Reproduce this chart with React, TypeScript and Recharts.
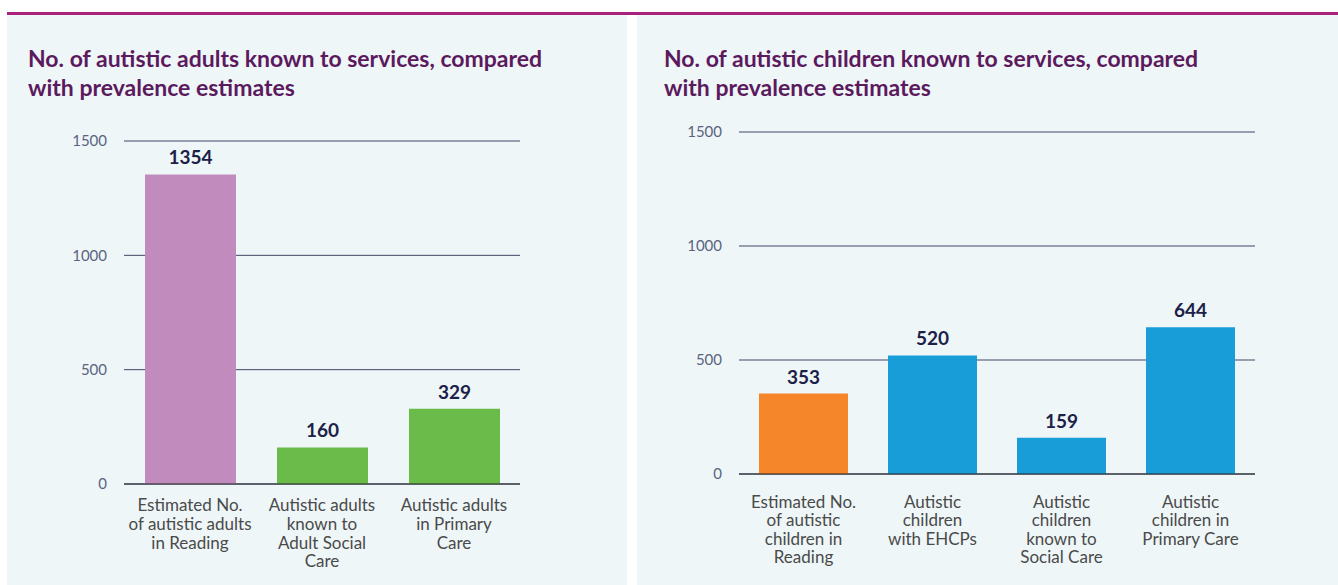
import { BarChart, Bar, XAxis, YAxis, CartesianGrid, Cell, LabelList } from "recharts";

// adults panel
const adultCategories = [
  "Estimated No.\nof autistic adults\nin Reading",
  "Autistic adults\nknown to\nAdult Social\nCare",
  "Autistic adults\nin Primary\nCare",
];
const adultValues = [1354, 160, 329];
const adultColors = ["#c28bbd", "#6bbb4b", "#6bbb4b"];

// children panel
const childCategories = [
  "Estimated No.\nof autistic\nchildren in\nReading",
  "Autistic\nchildren\nwith EHCPs",
  "Autistic\nchildren\nknown to\nSocial Care",
  "Autistic\nchildren in\nPrimary Care",
];
const childValues = [353, 520, 159, 644];
const childColors = ["#f5862a", "#189dd9", "#189dd9", "#189dd9"];

const yTicks = [0, 500, 1000, 1500];

const FONT = "Lato, 'Open Sans', sans-serif";
const PANEL_BG = "#eef6f8";

const makeTick = (firstDy: number, lineGap: number) => (props: any) => {
  const { x, y, payload } = props;
  const lines = String(payload.value).split("\n");
  return (
    <text x={x} y={y} textAnchor="middle" fill="#4a4a4a" fontSize={17} fontFamily={FONT}>
      {lines.map((line, i) => (
        <tspan key={i} x={x} dy={i === 0 ? firstDy : lineGap}>
          {line}
        </tspan>
      ))}
    </text>
  );
};

const Title: React.FC<{ left: number; lines: string[] }> = ({ left, lines }) => (
  <div
    style={{
      position: "absolute",
      left,
      top: 44,
      fontFamily: FONT,
      fontWeight: 700,
      fontSize: 23,
      lineHeight: "29px",
      color: "#5c1a5e",
      whiteSpace: "nowrap",
    }}
  >
    {lines.map((l, i) => (
      <div key={i}>{l}</div>
    ))}
  </div>
);

const App = () => {
  const adultData = adultCategories.map((name, i) => ({ name, value: adultValues[i] }));
  const childData = childCategories.map((name, i) => ({ name, value: childValues[i] }));

  return (
    <div style={{ position: "absolute", left: 0, top: 0, width: 1338, height: 585, background: "#fff", overflow: "hidden" }}>
      <div style={{ position: "absolute", left: 7, top: 12, width: 1331, height: 3, background: "#a8217f" }} />
      <div style={{ position: "absolute", left: 7, top: 15, width: 620, height: 570, background: PANEL_BG }} />
      <div style={{ position: "absolute", left: 637, top: 15, width: 701, height: 570, background: PANEL_BG }} />

      <Title left={28} lines={["No. of autistic adults known to services, compared", "with prevalence estimates"]} />
      <Title left={664} lines={["No. of autistic children known to services, compared", "with prevalence estimates"]} />

      <div style={{ position: "absolute", left: 7, top: 15 }}>
        <BarChart width={620} height={570} data={adultData} margin={{ top: 126, right: 107, bottom: 11, left: 0 }}>
          <CartesianGrid vertical={false} stroke="#3f4666" />
          <XAxis
            dataKey="name"
            height={90}
            interval={0}
            tickLine={false}
            tickSize={0}
            tickMargin={0}
            axisLine={{ stroke: "#222" }}
            tick={makeTick(27, 18.8)}
          />
          <YAxis
            width={117}
            domain={[0, 1500]}
            ticks={yTicks}
            axisLine={false}
            tickLine={false}
            tickSize={0}
            tickMargin={17}
            tick={{ fill: "#5a6480", fontSize: 15, fontFamily: FONT }}
          />
          <Bar dataKey="value" barSize={91} isAnimationActive={false}>
            {adultData.map((d, i) => (
              <Cell key={d.name} fill={adultColors[i]} />
            ))}
            <LabelList dataKey="value" position="top" offset={10} fill="#1c2148" fontSize={19} fontWeight={700} fontFamily={FONT} />
          </Bar>
        </BarChart>
      </div>

      <div style={{ position: "absolute", left: 637, top: 15 }}>
        <BarChart width={701} height={570} data={childData} margin={{ top: 117, right: 83, bottom: 11, left: 0 }}>
          <CartesianGrid vertical={false} stroke="#3f4666" />
          <XAxis
            dataKey="name"
            height={100}
            interval={0}
            tickLine={false}
            tickSize={0}
            tickMargin={0}
            axisLine={{ stroke: "#222" }}
            tick={makeTick(33.5, 18.6)}
          />
          <YAxis
            width={102}
            domain={[0, 1500]}
            ticks={yTicks}
            axisLine={false}
            tickLine={false}
            tickSize={0}
            tickMargin={17}
            tick={{ fill: "#5a6480", fontSize: 15, fontFamily: FONT }}
          />
          <Bar dataKey="value" barSize={89} isAnimationActive={false}>
            {childData.map((d, i) => (
              <Cell key={d.name} fill={childColors[i]} />
            ))}
            <LabelList dataKey="value" position="top" offset={10} fill="#1c2148" fontSize={19} fontWeight={700} fontFamily={FONT} />
          </Bar>
        </BarChart>
      </div>
    </div>
  );
};

export default App;
